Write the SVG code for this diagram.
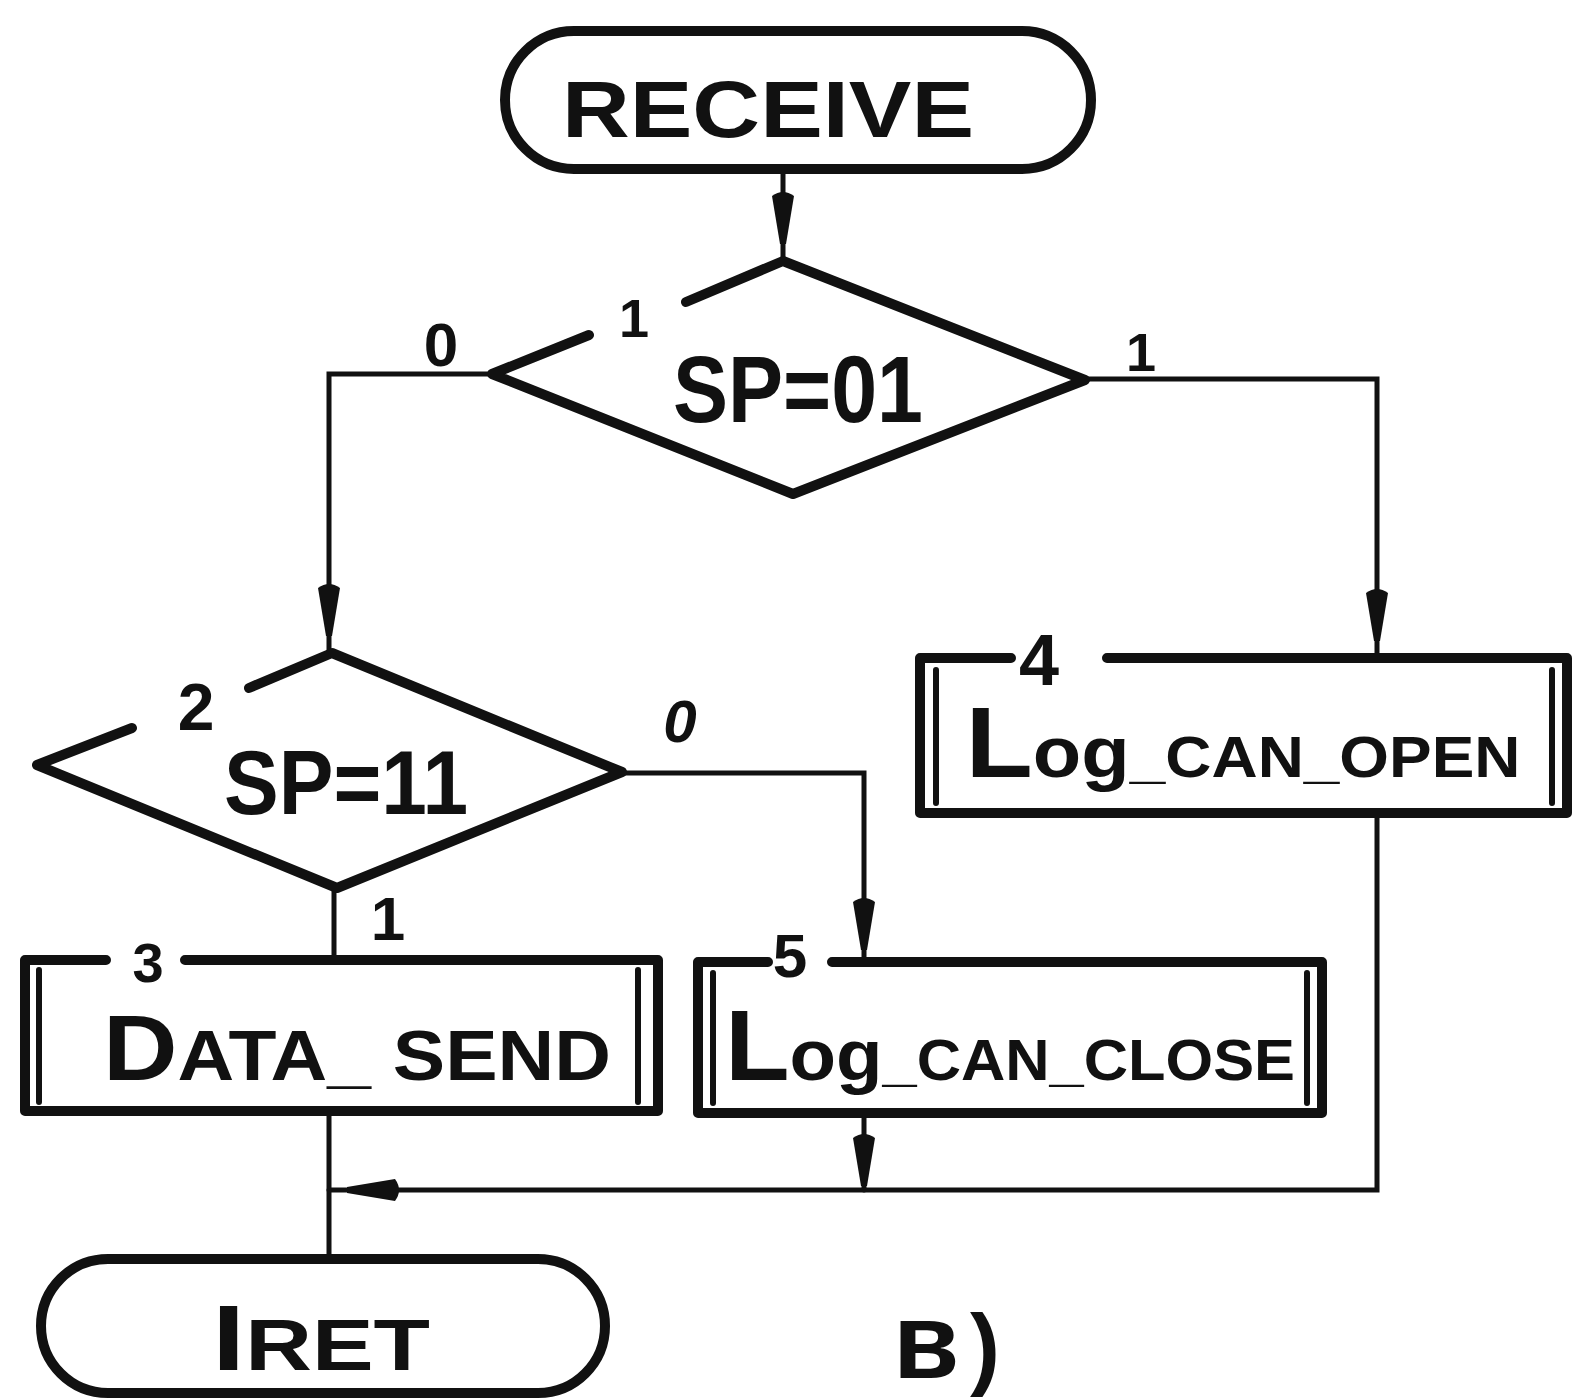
<svg xmlns="http://www.w3.org/2000/svg" width="1585" height="1399" viewBox="0 0 1585 1399">
<style>
.bg{fill:#ffffff}
.shape{fill:none;stroke:#111;stroke-width:10;stroke-linejoin:round;stroke-linecap:round}
.inner{fill:none;stroke:#111;stroke-width:6;stroke-linecap:round}
.conn{fill:none;stroke:#111;stroke-width:5;stroke-linecap:round;stroke-linejoin:miter}
.arr{fill:#111;stroke:none}
.lbl{font-family:"Liberation Sans Narrow","Liberation Sans",sans-serif;font-weight:bold;fill:#111;text-anchor:middle}
.txt{font-family:"Liberation Sans","DejaVu Sans",sans-serif;font-weight:bold;fill:#111;text-anchor:middle}
</style>
<defs>
<path id="arrow" d="M-11,0 Q0,-8 11,0 L3,48 L-3,48 Z"/>
</defs>
<rect class="bg" x="0" y="0" width="1585" height="1399"/>

<g id="connectors">
<path class="conn" d="M783,170 V261"/>
<use href="#arrow" class="arr" transform="translate(783,196)"/>
<path class="conn" d="M490,374 H329 V652"/>
<use href="#arrow" class="arr" transform="translate(329,588)"/>
<path class="conn" d="M1087,379 H1377 V657"/>
<use href="#arrow" class="arr" transform="translate(1377,593)"/>
<path class="conn" d="M622,773 H864 V962"/>
<use href="#arrow" class="arr" transform="translate(864,902)"/>
<path class="conn" d="M334,888 V960"/>
<path class="conn" d="M864,1114 V1190"/>
<use href="#arrow" class="arr" transform="translate(864,1138)"/>
<path class="conn" d="M1377,814 V1190 H329"/>
<use href="#arrow" class="arr" transform="translate(395,1190) rotate(90)"/>
<path class="conn" d="M329,1111 V1259"/>
</g>

<g id="receive">
<rect class="shape" x="505" y="31" width="586" height="138" rx="69"/>
<text class="txt" x="768" y="137" font-size="80" textLength="412" lengthAdjust="spacingAndGlyphs">RECEIVE</text>
</g>

<g id="decision1">
<path class="shape" d="M686,302 L783,261 L1085,380 L793,494 L492,374 L589,335"/>
<text class="txt" x="798" y="422" font-size="94" textLength="250" lengthAdjust="spacingAndGlyphs">SP=01</text>
<text class="lbl" x="634" y="337" font-size="54">1</text>
<text class="lbl" x="441" y="366" font-size="62">0</text>
<text class="lbl" x="1141" y="371" font-size="54">1</text>
</g>

<g id="decision2">
<path class="shape" d="M249,688 L332,653 L622,772 L337,888 L37,765 L132,728"/>
<text class="txt" x="346" y="814" font-size="90" textLength="244" lengthAdjust="spacingAndGlyphs">SP=11</text>
<text class="lbl" x="196" y="730" font-size="66">2</text>
<text class="lbl" x="680" y="742" font-size="60" font-style="italic">0</text>
<text class="lbl" x="388" y="940" font-size="62">1</text>
</g>

<g id="box3">
<path class="shape" d="M106,960 H25 V1111 H658 V960 H185"/>
<path class="inner" d="M39,970 V1102 M638,970 V1102"/>
<text class="lbl" x="148" y="982" font-size="56">3</text>
<text class="txt" x="357" y="1080" font-size="70" textLength="508" lengthAdjust="spacingAndGlyphs"><tspan font-size="92">D</tspan>ATA_ SEND</text>
</g>

<g id="box4">
<path class="shape" d="M1011,658 H920 V813 H1567 V658 H1107"/>
<path class="inner" d="M936,670 V803 M1552,670 V803"/>
<text class="lbl" x="1039" y="685" font-size="72">4</text>
<text class="txt" x="1243" y="777" font-size="58" textLength="555" lengthAdjust="spacingAndGlyphs"><tspan font-size="100">L</tspan><tspan font-size="72">og</tspan>_CAN_OPEN</text>
</g>

<g id="box5">
<path class="shape" d="M768,962 H698 V1113 H1322 V962 H832"/>
<path class="inner" d="M713,973 V1103 M1307,973 V1103"/>
<text class="lbl" x="790" y="977" font-size="62">5</text>
<text class="txt" x="1010" y="1080" font-size="58" textLength="570" lengthAdjust="spacingAndGlyphs"><tspan font-size="100">L</tspan><tspan font-size="72">og</tspan>_CAN_CLOSE</text>
</g>

<g id="iret">
<rect class="shape" x="41" y="1259" width="564" height="134" rx="67"/>
<text class="txt" x="321" y="1370" font-size="72" textLength="218" lengthAdjust="spacingAndGlyphs"><tspan font-size="93">I</tspan>RET</text>
</g>

<g id="caption">
<text class="txt" y="1378" style="text-anchor:start"><tspan x="893" font-size="108">в</tspan><tspan x="970" font-size="90">)</tspan></text>
</g>
</svg>
